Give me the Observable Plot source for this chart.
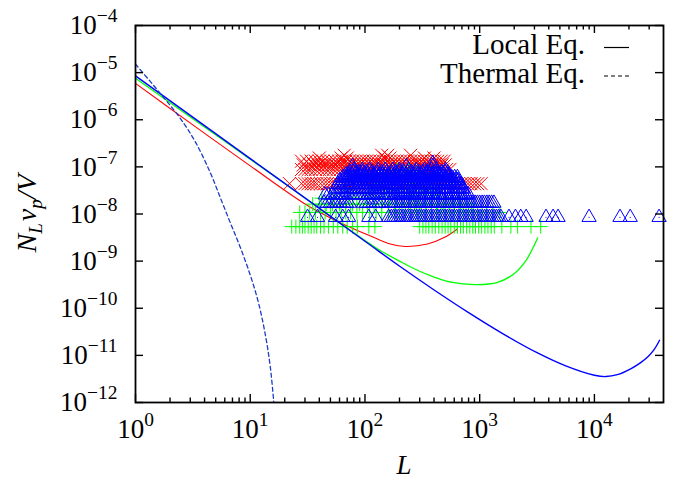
<!DOCTYPE html>
<html><head><meta charset="utf-8">
<script src="https://cdn.jsdelivr.net/npm/d3@7"></script>
<script src="https://cdn.jsdelivr.net/npm/@observablehq/plot@0.6"></script>
<style>body{margin:0;background:#fff}svg{display:block}</style>
</head><body><div id="chart"></div>
<script>
// ---- axis ticks and labels ----
const xMajor = [1, 10, 100, 1000, 10000];
const xExpLabels = ["0", "1", "2", "3", "4"];
const xMinor = [2,3,4,5,6,7,8,9, 20,30,40,50,60,70,80,90, 200,300,400,500,600,700,800,900,
                2000,3000,4000,5000,6000,7000,8000,9000, 20000,30000];
const yMajor = [1e-12,1e-11,1e-10,1e-9,1e-8,1e-7,1e-6,1e-5,1e-4];
const yExpLabels = ["−12","−11","−10","−9","−8","−7","−6","−5","−4"];
const legendLabels = ["Local Eq.", "Thermal Eq."];

// ---- curves: [L, N_L v_p / V] ----
const redLocal = [[1,5.9e-6],[3.16,7.8e-7],[10,1.05e-7],[31.6,1.51e-8],[56,7.2e-9],[75,5.2e-9],
  [112,3.4e-9],[166,2.3e-9],[226,2.04e-9],[351,2.3e-9],[490,3.16e-9],[631,4.7e-9]];
const greenLocal = [[1,7.6e-6],[3.16,1.05e-6],[10,1.45e-7],[31.6,2.0e-8],[100,2.75e-9],[137,1.66e-9],
  [200,1.0e-9],[269,6.9e-10],[380,4.8e-10],[525,3.7e-10],[708,3.3e-10],[933,3.16e-10],
  [1432,3.55e-10],[1995,5.4e-10],[2512,1.0e-9],[2800,1.58e-9],[3200,3.1e-9]];
const blueLocal = [[1,8.51e-6],[10,1.5e-7],[100,2.64e-9],[199.5,7.87e-10],[398,2.47e-10],[794,8.17e-11],
  [1585,2.9e-11],[3162,1.14e-11],[5623,5.98e-12],[10000,3.78e-12],[12590,3.55e-12],[15850,3.89e-12],
  [20890,5.25e-12],[25120,6.92e-12],[29240,9.33e-12],[33110,1.32e-11],[36980,2.09e-11]];
const blueThermal = [[1,1.51e-5],[1.344,6.5e-6],[1.817,2.7e-6],[2.457,1.07e-6],[3.322,3.4e-7],[4.49,7.5e-8],
  [5.49,2.21e-8],[6.71,6.5e-9],[8.21,1.93e-9],[10.04,4.93e-10],[11.79,1.32e-10],[13.58,2.64e-11],
  [15.01,5.3e-12],[16.27,6.8e-13]];

// ---- simulation points: rows of equal N_L v_p / V ----
const redRows = [
  {y: 4.4e-8, L: [22,28,30,32,34,36,38,41,44,47,50,53,56,60,64,68,72,77,82,88,94,100,107,115,123,132,141,150,160,172,184,197,210,225,240,257,275,295,315,337,360,385,410,440,470,500,535,570,610,650,695,740,790,840,900,960,1030]},
  {y: 8.8e-8, L: [28,30,32,34,37,40,43,46,49,53,57,61,65,70,75,80,86,92,98,105,113,121,130,140,150,160,172,184,197,211,226,242,260,278,298,320,342,366,392,420,450,480,515,550]},
  {y: 1.1e-7, L: [29,33,36,39,42,45,48,52,56,60,64,69,74,79,85,91,97,104,112,120,128,137,147,157,168,180,193,207,222,238,255,273,292,313,335,359,384,411,440,470,500]},
  {y: 1.32e-7, L: [28,31,34,37,40,43,47,51,55,59,63,68,73,78,84,90,96,103,110,118,126,135,145,155,166,178,190,204,218,234,250,268,287,307,329,352,377,403,430,460,490]},
  {y: 1.54e-7, L: [40,62,70,150,165,330,400]},
  {y: 1.76e-7, L: [66,140,158,250]}
];
const greenRows = [
  {y: 5.4e-9, L: [23,25,27,28.5,30,32,34,36,38,41,44,48,53,58,64,70,78,86,108,122,300,320,340,360,385,410,440,470,500,530,560,600,640,680,720,770,820,870,920,980,1040,1110,1180,1260,1340,1560,1870,2140,2800,3400]},
  {y: 1.08e-8, L: [27,30,33,37,41,45,50,56,62,68,75,85,95,110,125,140,160,180,200,225,250,280,310,340,380,420,460,500,550,600,660,720,800,880,960,1050,1150,1300,1500]},
  {y: 1.62e-8, L: [35,40,46,52,60,68,78,90,105,120,140,160,185,210,240,270,300,340,380,430,480,540,600,680,760,850]},
  {y: 2.16e-8, L: [42,50,60,72,85,100,120,140,165,190,220,250,290,330,380,430,500,580,660]},
  {y: 2.7e-8, L: [55,80,110,150,200,260,330,420]},
  {y: 3.24e-8, L: [70,120,180,240,320,400]},
  {y: 4.32e-8, L: [130,260,380]},
  {y: 7.56e-8, L: [220,280]},
  {y: 8.64e-8, L: [190,240]}
];
const blueRows = [
  {y: 8.5e-9, L: [31.6,38.6,55.5,64,72,108,124,161,170,178,186,195,205,215,225,235,245,257,270,283,297,311,326,342,358,375,393,412,432,453,475,498,522,547,573,600,630,660,692,725,760,797,835,875,917,961,1007,1055,1106,1159,1215,1273,1334,1400,1465,1530,1800,2050,2280,2540,3785,4360,4820,8980,16700,20500,36600]},
  {y: 1.7e-8, L: [44,47,50,54,57,61,65,69,73,97,103,110,117,125,132,140,161,170,178,186,195,205,215,225,236,248,260,272,285,298,312,327,343,359,376,394,413,432,453,475,497,521,546,572,600,628,658,690,723,757,793,831,870,912,955,1000,1050,1100,1155,1210,1270,1330]},
  {y: 2.55e-8, L: [45,48,52,56,60,64,68,73,78,83,88,94,100,106,112,118,125,132,140,148,155,163,170,180,190,200,210,220,230,242,255,268,280,295,310,325,340,357,375,392,410,430,450,475,500,525,550,575,600,630,660,695,730,765,800]},
  {y: 3.4e-8, L: [55,58,62,66,70,75,80,85,90,96,102,108,115,122,130,138,146,155,164,174,185,196,208,220,233,247,262,278,295,312,331,351,372,394,418,443,470,498,528,560,593,628,666,705,720]},
  {y: 4.25e-8, L: [58,61,65,69,73,78,83,88,94,100,106,113,120,127,135,143,152,161,171,181,192,204,216,229,243,258,273,290,307,325,345,366,388,411,436,462,490,519,550,583,618,655,690]},
  {y: 5.1e-8, L: [60,64,68,72,77,82,87,92,98,104,110,117,124,132,140,148,157,167,177,188,199,211,224,237,252,267,283,300,318,337,357,379,402,426,452,479,508,538,570,605,640,650]},
  {y: 5.95e-8, L: [64,68,72,77,82,87,92,98,104,110,117,124,132,140,148,157,167,177,188,199,211,224,237,252,267,283,300,318,337,357,379,402,426,452,479,508,538,570,605,640]},
  {y: 6.8e-8, L: [68,72,77,82,87,93,99,105,112,119,126,134,142,151,160,170,180,191,203,215,228,242,257,272,289,306,325,344,365,387,410,435,461,489,518,540]},
  {y: 7.65e-8, L: [75,80,88,95,104,115,126,140,155,170,185,200,218,235,255,275,298,320,345,370,400,430,465,500]},
  {y: 8.5e-8, L: [80,95,110,130,150,175,200,240,280,330,380,420,505]},
  {y: 1.02e-7, L: [78,230,390]},
  {y: 1.19e-7, L: [390]}
];

const pts = rows => rows.flatMap(r => r.L.map(L => ({L, y: r.y})));
const cur = arr => arr.map(([L, y]) => ({L, y}));

const W = 674, H = 482, mL = 135, mR = 11, mT = 25, mB = 80;
const fw = W - mL - mR, fh = H - mT - mB;
const FONT = "'Liberation Serif', 'Times New Roman', serif";

const chart = Plot.plot({
  width: W, height: H,
  marginLeft: mL, marginRight: mR, marginTop: mT, marginBottom: mB,
  style: {fontFamily: FONT, fontSize: "27px", background: "white", color: "black", overflow: "visible"},
  x: {type: "log", domain: [1, 40000], axis: null},
  y: {type: "log", domain: [1e-12, 1e-4], axis: null},
  marks: [
    Plot.dot(pts(redRows), {x: "L", y: "y", symbol: "times", r: 6, stroke: "#ff0000", strokeWidth: 1}),
    Plot.line(cur(redLocal), {x: "L", y: "y", stroke: "#ff0000", strokeWidth: 1.1, curve: "catmull-rom", clip: true}),
    Plot.dot(pts(greenRows), {x: "L", y: "y", symbol: "plus", r: 4.6, stroke: "#00ff00", strokeWidth: 1}),
    Plot.line(cur(greenLocal), {x: "L", y: "y", stroke: "#00ff00", strokeWidth: 1.3, curve: "catmull-rom", clip: true}),
    Plot.dot(pts(blueRows), {x: "L", y: "y", symbol: "triangle", r: 5.3, stroke: "#0000ff", fill: "none", strokeWidth: 1}),
    Plot.dot(pts(blueRows), {x: "L", y: "y", r: 0.6, fill: "#0000ff", stroke: null}),
    Plot.line(cur(blueLocal), {x: "L", y: "y", stroke: "#0000ff", strokeWidth: 1.4, curve: "catmull-rom", clip: true}),
    Plot.line(cur(blueThermal), {x: "L", y: "y", stroke: "#1a3cc8", strokeWidth: 1.3, strokeDasharray: "4,3", curve: "catmull-rom", clip: true}),
    Plot.frame({stroke: "black", strokeWidth: 1.8}),
    Plot.tickX(xMajor, {x: d => d, insetTop: fh - 8, stroke: "black", strokeWidth: 1.4}),
    Plot.tickX(xMajor, {x: d => d, insetBottom: fh - 8, stroke: "black", strokeWidth: 1.4}),
    Plot.tickX(xMinor, {x: d => d, insetTop: fh - 4.5, stroke: "black", strokeWidth: 1.4}),
    Plot.tickX(xMinor, {x: d => d, insetBottom: fh - 4.5, stroke: "black", strokeWidth: 1.4}),
    Plot.tickY(yMajor, {y: d => d, insetRight: fw - 8, stroke: "black", strokeWidth: 1.4}),
    Plot.tickY(yMajor, {y: d => d, insetLeft: fw - 8, stroke: "black", strokeWidth: 1.4}),
    Plot.axisX(xMajor, {anchor: "bottom", tickSize: 0, tickPadding: 16, label: null,
      tickFormat: d => "10^" + xExpLabels[xMajor.indexOf(d)]}),
    Plot.axisY(yMajor, {anchor: "left", tickSize: 0, tickPadding: 18, label: null,
      tickFormat: d => "10^" + yExpLabels[yMajor.indexOf(d)]})
  ]
});

const svg = d3.select(chart);
svg.selectAll("text").each(function() {
  const t = this.textContent;
  if (!t.includes("^")) return;
  const [base, exp] = t.split("^");
  const el = d3.select(this);
  el.text(null);
  el.append("tspan").text(base);
  el.append("tspan").attr("dy", -12).attr("font-size", "0.72em").text(exp);
});

// axis titles
svg.append("text").attr("x", 404).attr("y", 474).attr("text-anchor", "middle")
  .attr("font-family", FONT).attr("font-size", 27).attr("font-style", "italic").text("L");
const yl = svg.append("text").attr("transform", `translate(36,${mT + fh / 2}) rotate(-90)`)
  .attr("text-anchor", "middle").attr("font-family", FONT).attr("font-size", 28).attr("font-style", "italic");
yl.append("tspan").text("N");
yl.append("tspan").attr("dy", 6).attr("font-size", 19).text("L");
yl.append("tspan").attr("dy", -6).attr("dx", 2).text("v");
yl.append("tspan").attr("dy", 6).attr("font-size", 19).text("p");
yl.append("tspan").attr("dy", -6).text("/V");

// legend
const lg = svg.append("g").attr("font-family", FONT).attr("font-size", 29);
lg.append("text").attr("x", 585).attr("y", 54).attr("text-anchor", "end").text(legendLabels[0]);
lg.append("text").attr("x", 585).attr("y", 83).attr("text-anchor", "end").text(legendLabels[1]);
lg.append("line").attr("x1", 604).attr("x2", 629).attr("y1", 47.5).attr("y2", 47.5).attr("stroke", "black").attr("stroke-width", 1.2);
lg.append("line").attr("x1", 604).attr("x2", 629).attr("y1", 76).attr("y2", 76).attr("stroke", "black").attr("stroke-width", 1.2).attr("stroke-dasharray", "4,3");

document.getElementById("chart").append(chart);
</script></body></html>
